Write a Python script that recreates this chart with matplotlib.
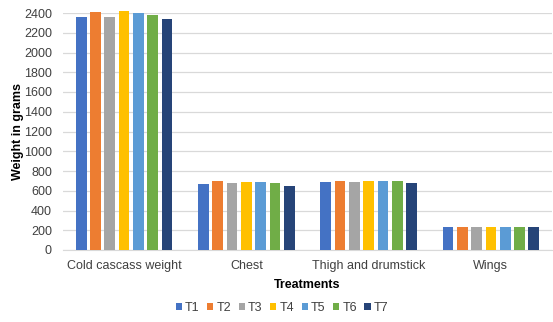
import numpy as np
import matplotlib.pyplot as plt

plt.rcParams['font.family'] = ['Liberation Sans', 'DejaVu Sans']

cats = ['Cold cascass weight', 'Chest', 'Thigh and drumstick', 'Wings']
trts = ['T1', 'T2', 'T3', 'T4', 'T5', 'T6', 'T7']
T1 = [2360, 665, 689, 236]
T2 = [2410, 702, 702, 236]
T3 = [2360, 675, 689, 230]
T4 = [2420, 689, 699, 236]
T5 = [2400, 689, 695, 236]
T6 = [2380, 675, 695, 236]
T7 = [2340, 651, 678, 236]
vals = [T1, T2, T3, T4, T5, T6, T7]
cols = ['#4472C4', '#ED7D31', '#A5A5A5', '#FFC000', '#5B9BD5', '#70AD47', '#264478']

fig = plt.figure(figsize=(5.53, 3.22), dpi=100)
ax = fig.add_axes([63/553, 72/322, 489/553, 237/322])

x = np.arange(len(cats))
pitch = 0.117
w = pitch * 0.75
for i in range(len(trts)):
    ax.bar(x + (i - 3) * pitch, vals[i], w, color=cols[i], label=trts[i],
           zorder=3, clip_on=False)

ax.set_xlim(-0.5, 3.5)
ax.set_ylim(0, 2400)
ax.set_yticks(range(0, 2401, 200))
ax.set_xticks(x)
ax.set_xticklabels(cats, fontsize=9, color='#404040')
ax.tick_params(axis='y', labelsize=9, labelcolor='#404040', length=0, pad=8)
ax.tick_params(axis='x', length=0, pad=7)
ax.grid(axis='y', color='#D9D9D9', lw=0.9, zorder=0)
for s in ['top', 'right', 'left']:
    ax.spines[s].set_visible(False)
ax.spines['bottom'].set_color('#D9D9D9')

ax.set_ylabel('Weight in grams', fontsize=9, fontweight='bold', labelpad=0)
ax.set_xlabel('Treatments', fontsize=9, fontweight='bold', labelpad=5)

ax.legend(loc='center', bbox_to_anchor=(282/553, 14/322), bbox_transform=fig.transFigure,
          ncol=7, frameon=False, fontsize=9, handlelength=0.5, handleheight=0.5,
          handletextpad=0.25, columnspacing=0.6, labelcolor='#404040')

fig.savefig('out.png', dpi=100)
